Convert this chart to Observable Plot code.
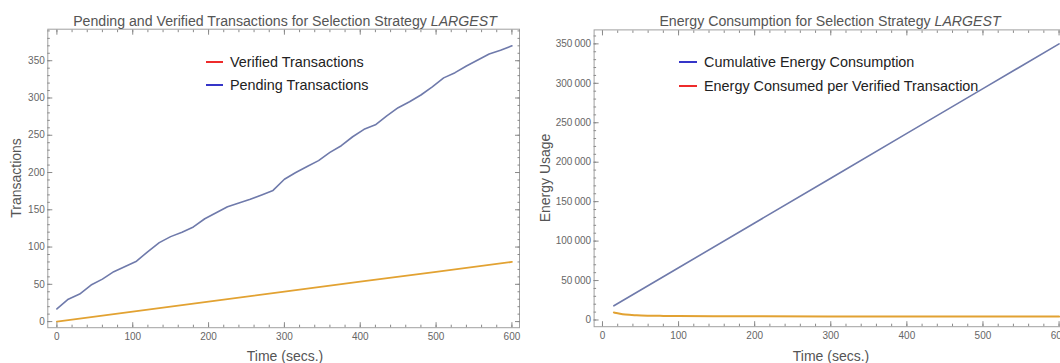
<!DOCTYPE html>
<html>
<head>
<meta charset="utf-8">
<script src="https://cdn.jsdelivr.net/npm/d3@7"></script>
<script src="https://cdn.jsdelivr.net/npm/@observablehq/plot@0.6"></script>
<style>
  html, body { margin: 0; padding: 0; background: #fff; }
  #wrap { position: relative; width: 1060px; height: 363px; overflow: hidden; font-family: "Liberation Sans", Arial, sans-serif; }
  .abs { position: absolute; white-space: nowrap; line-height: 1; }
  .title { font-size: 14.15px; color: #555; transform: translate(-50%, -50%); }
  .axlab { font-size: 14px; color: #555; transform: translate(-50%, -50%); }
  .axlab.rot { transform: translate(-50%, -50%) rotate(-90deg); }
  .leg { font-size: 14.4px; color: #222; transform: translateY(-50%); }
  .sw { position: absolute; height: 0; border-top: 2px solid; transform: translateY(-1px); }
</style>
</head>
<body>
<div id="wrap"></div>
<script>
// ---------- data ----------
const pendTime  = [0, 15, 30, 45, 60, 75, 90, 105, 120, 135, 150, 165, 180, 195, 210, 225, 240, 255, 270, 285, 300, 315, 330, 345, 360, 375, 390, 405, 420, 435, 450, 465, 480, 495, 510, 525, 540, 555, 570, 585, 600];
const pending   = [17, 30, 37, 49, 57, 67, 74, 81, 94, 106, 114, 120, 127, 138, 146, 154, 159, 164, 170, 176, 191, 200, 208, 216, 227, 236, 248, 258, 264, 276, 287, 295, 304, 315, 327, 334, 343, 351, 359, 364, 370];
const verTime   = [0, 100, 200, 300, 400, 500, 600];
const verified  = [0, 13.4, 26.8, 40.2, 53.5, 66.8, 80];

const energyTime = [15, 100, 200, 300, 400, 500, 600];
const cumEnergy  = [18000, 66200, 123000, 179700, 236500, 293200, 350000];
const perTime    = [15, 20, 30, 45, 60, 80, 100, 150, 200, 300, 400, 500, 600];
const perVerified= [9500, 8600, 7000, 6000, 5500, 5200, 5000, 4800, 4650, 4500, 4450, 4400, 4380];

const xMajor  = [0, 100, 200, 300, 400, 500, 600];
const xMinor  = d3.range(0, 620, 20);
const yMajorL = [0, 50, 100, 150, 200, 250, 300, 350];
const yMinorL = d3.range(0, 400, 10);
const yMajorR = [0, 50000, 100000, 150000, 200000, 250000, 300000, 350000];
const yMinorR = d3.range(0, 370000, 10000);

const titleL = "Pending and Verified Transactions for Selection Strategy ";
const titleR = "Energy Consumption for Selection Strategy ";
const titleEm = "LARGEST";
const xLabel = "Time (secs.)";
const yLabelL = "Transactions";
const yLabelR = "Energy Usage";
const legendL = [{name: "Verified Transactions", color: "#ee2b2b"}, {name: "Pending Transactions", color: "#3535c8"}];
const legendR = [{name: "Cumulative Energy Consumption", color: "#3535c8"}, {name: "Energy Consumed per Verified Transaction", color: "#ee2b2b"}];

const blueLine = "#6f7aab";
const orangeLine = "#e2a232";

// ---------- helpers ----------
const tickCol = "#8a8a8a";
function frameAxes(xMaj, xMin, yMaj, yMin, yFmt) {
  return [
    Plot.frame({stroke: "#a0a0a0", strokeWidth: 1}),
    Plot.axisX(xMaj, {anchor: "bottom", tickSize: -5, tickPadding: 10, stroke: tickCol, fill: "#666", label: null}),
    Plot.axisX(xMin, {anchor: "bottom", tickSize: -2.5, stroke: tickCol, fill: "none", label: null}),
    Plot.axisX(xMaj, {anchor: "top", tickSize: -5, stroke: tickCol, fill: "none", label: null}),
    Plot.axisX(xMin, {anchor: "top", tickSize: -2.5, stroke: tickCol, fill: "none", label: null}),
    Plot.axisY(yMaj, {anchor: "left", tickSize: -5, tickPadding: 8, stroke: tickCol, fill: "#666", label: null, tickFormat: yFmt}),
    Plot.axisY(yMin, {anchor: "left", tickSize: -2.5, stroke: tickCol, fill: "none", label: null}),
    Plot.axisY(yMaj, {anchor: "right", tickSize: -5, stroke: tickCol, fill: "none", label: null}),
    Plot.axisY(yMin, {anchor: "right", tickSize: -2.5, stroke: tickCol, fill: "none", label: null})
  ];
}
const baseStyle = {fontFamily: "'Liberation Sans', Arial, sans-serif", fontSize: "10px", background: "transparent", overflow: "visible"};

const pendData = pendTime.map((t, i) => ({t, v: pending[i]}));
const verData = verTime.map((t, i) => ({t, v: verified[i]}));
const cumData = energyTime.map((t, i) => ({t, v: cumEnergy[i]}));
const perData = perTime.map((t, i) => ({t, v: perVerified[i]}));

const left = Plot.plot({
  width: 530, height: 363,
  marginLeft: 47.3, marginRight: 11, marginTop: 28.7, marginBottom: 35.8,
  x: {domain: [-12, 610]},
  y: {domain: [-8.2, 392.3]},
  style: baseStyle,
  marks: [
    Plot.line(pendData, {x: "t", y: "v", stroke: blueLine, strokeWidth: 1.6}),
    Plot.line(verData, {x: "t", y: "v", stroke: orangeLine, strokeWidth: 1.8}),
    ...frameAxes(xMajor, xMinor, yMajorL, yMinorL, d => String(d))
  ]
});

const fmtR = d => d3.format(",")(d).replace(/,/g, "\u2009");
const right = Plot.plot({
  width: 545, height: 363,
  marginLeft: 63.6, marginRight: 7.3, marginTop: 29.4, marginBottom: 36.8,
  x: {domain: [-11, 612]},
  y: {domain: [-8500, 367700]},
  style: baseStyle,
  marks: [
    Plot.line(cumData, {x: "t", y: "v", stroke: blueLine, strokeWidth: 1.6}),
    Plot.line(perData, {x: "t", y: "v", stroke: orangeLine, strokeWidth: 2, curve: "monotone-x"}),
    ...frameAxes(xMajor, xMinor, yMajorR, yMinorR, fmtR)
  ]
});

const wrap = document.getElementById("wrap");
left.style.position = "absolute"; left.style.left = "0px"; left.style.top = "0px";
right.style.position = "absolute"; right.style.left = "530px"; right.style.top = "0px";
wrap.appendChild(left);
wrap.appendChild(right);

function addText(cls, x, y, html) {
  const d = document.createElement("div");
  d.className = "abs " + cls;
  d.style.left = x + "px"; d.style.top = y + "px";
  d.innerHTML = html;
  wrap.appendChild(d);
  return d;
}
addText("title", 285, 20.5, titleL + "<i>" + titleEm + "</i>");
addText("title", 830, 20.5, titleR + "<i>" + titleEm + "</i>");
addText("axlab", 285, 356, xLabel);
addText("axlab", 831, 356, xLabel);
addText("axlab rot", 16, 178, yLabelL);
addText("axlab rot", 545, 178, yLabelR);

function addLegend(items, swX0, swX1, textX, ys) {
  items.forEach((it, i) => {
    const s = document.createElement("div");
    s.className = "sw";
    s.style.left = swX0 + "px"; s.style.width = (swX1 - swX0) + "px";
    s.style.top = ys[i] + "px"; s.style.borderTopColor = it.color;
    wrap.appendChild(s);
    addText("leg", textX, ys[i], it.name);
  });
}
addLegend(legendL, 205.5, 223, 230, [61.5, 84.5]);
addLegend(legendR, 679, 697, 704, [62, 86]);
</script>
</body>
</html>
